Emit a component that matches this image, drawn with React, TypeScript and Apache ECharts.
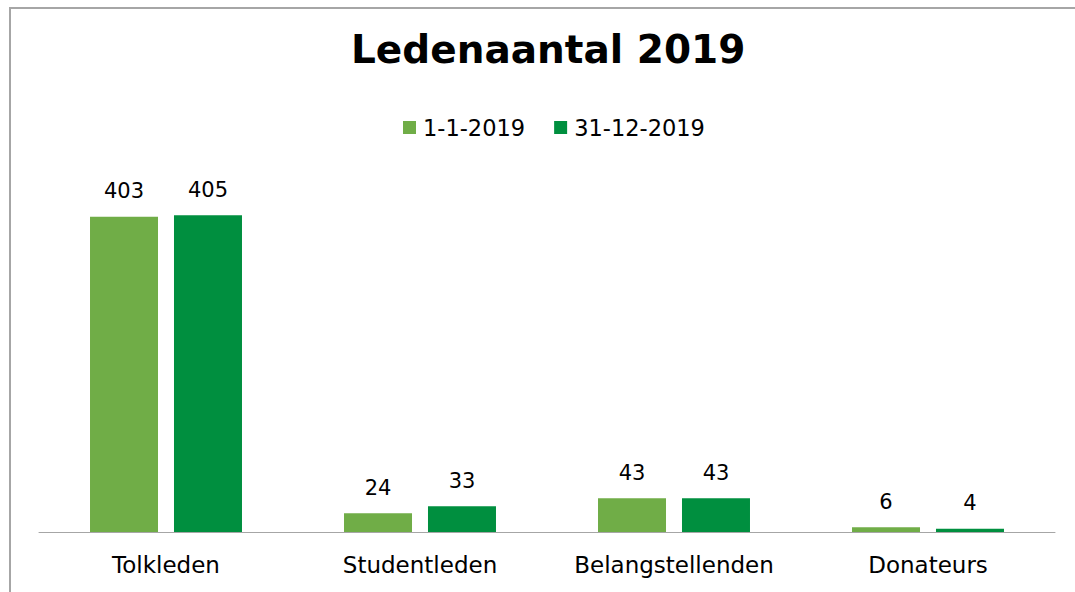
import React, { useEffect, useRef } from "react";
import * as echarts from "echarts";

const categories = ["Tolkleden", "Studentleden", "Belangstellenden", "Donateurs"];
const seriesNames = ["1-1-2019", "31-12-2019"];
const valuesStart = [403, 24, 43, 6];
const valuesEnd = [405, 33, 43, 4];
const colors = ["#70AD47", "#008F3F"];

const FONT = "DejaVu Sans";

export default function App() {
  const ref = useRef<HTMLDivElement>(null);
  useEffect(() => {
    if (!ref.current) return;
    const chart = echarts.init(ref.current, null, { renderer: "svg" });
    const label = {
      show: true,
      position: "top",
      distance: 15,
      color: "#000",
      fontFamily: FONT,
      fontSize: 21,
    };
    chart.setOption({
      animation: false,
      backgroundColor: "#fff",
      title: {
        text: "Ledenaantal 2019",
        left: 346,
        top: 25,
        textStyle: { fontFamily: FONT, fontWeight: "bold", fontSize: 39, color: "#000" },
      },
      legend: {
        top: 111,
        left: 398,
        itemWidth: 13,
        itemHeight: 13,
        itemGap: 29,
        icon: "rect",
        textStyle: { fontFamily: FONT, fontSize: 22.5, color: "#000", padding: [0, 0, 0, 2] },
        data: seriesNames,
      },
      grid: { left: 39, right: 20, top: 180, bottom: 60, containLabel: false },
      xAxis: {
        type: "category",
        data: categories,
        axisLine: { lineStyle: { color: "#A6A6A6", width: 1 } },
        axisTick: { show: false },
        axisLabel: { fontFamily: FONT, fontSize: 23, color: "#000", margin: 21, interval: 0 },
      },
      yAxis: {
        type: "value",
        min: 0,
        max: 450,
        show: false,
        splitLine: { show: false },
      },
      graphic: [
        {
          type: "rect",
          shape: { x: 10, y: 8, width: 2000, height: 2000 },
          style: { fill: "none", stroke: "#A6A6A6", lineWidth: 2 },
          silent: true,
        },
      ],
      series: [
        {
          name: seriesNames[0],
          type: "bar",
          data: valuesStart,
          itemStyle: { color: colors[0] },
          barWidth: 68,
          barGap: "23.5%",
          label,
        },
        {
          name: seriesNames[1],
          type: "bar",
          data: valuesEnd,
          itemStyle: { color: colors[1] },
          barWidth: 68,
          label,
        },
      ],
    });
    return () => chart.dispose();
  }, []);
  return (
    <div
      ref={ref}
      style={{ position: "fixed", left: 0, top: 0, width: 1075, height: 592 }}
    />
  );
}
